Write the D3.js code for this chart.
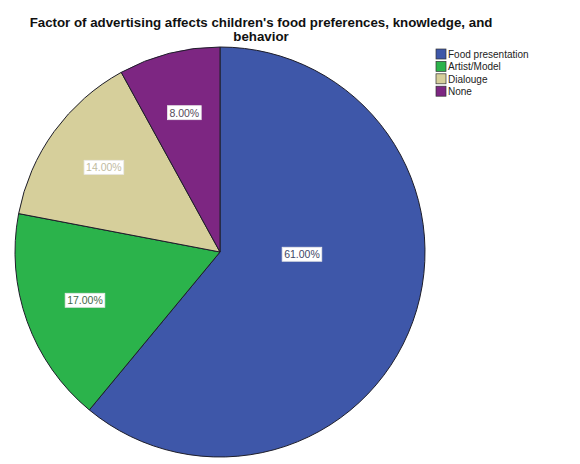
<!DOCTYPE html>
<html>
<head>
<meta charset="utf-8">
<script src="https://cdn.jsdelivr.net/npm/d3@7"></script>
<style>
  body { margin: 0; background: #fff; }
  text { font-family: "Liberation Sans", Arial, sans-serif; }
</style>
</head>
<body>
<div id="chart"></div>
<script>
// data
var categories = ["Food presentation", "Artist/Model", "Dialouge", "None"];
var percents = [61, 17, 14, 8];
var titleLines = ["Factor of advertising affects children's food preferences, knowledge, and", "behavior"];

var width = 580, height = 464;
var cx = 220, cy = 252, radius = 205;

var color = d3.scaleOrdinal()
  .domain(categories)
  .range(["#3e57a9", "#2bb34b", "#d6cf9b", "#7d2682"]);
var labelColor = d3.scaleOrdinal()
  .domain(categories)
  .range(["#3d4766", "#3f6a48", "#bfbb9f", "#574a5c"]);

var svg = d3.select("#chart").append("svg")
  .attr("width", width)
  .attr("height", height);

svg.append("g")
  .selectAll("text")
  .data(titleLines)
  .enter().append("text")
    .attr("x", 261)
    .attr("y", function(d, i) { return 27 + i * 14; })
    .attr("text-anchor", "middle")
    .style("font-size", "13.3px")
    .style("font-weight", "bold")
    .style("fill", "#111")
    .text(function(d) { return d; });

var rows = categories.map(function(c, i) { return { name: c, value: percents[i] }; });

var pie = d3.pie()
  .sort(null)
  .value(function(d) { return d.value; });

var arc = d3.arc()
  .innerRadius(0)
  .outerRadius(radius);

var g = svg.append("g")
  .attr("transform", "translate(" + cx + "," + cy + ")");

var slices = pie(rows);

g.selectAll("path")
  .data(slices)
  .enter().append("path")
    .attr("d", arc)
    .style("fill", function(d) { return color(d.data.name); })
    .style("stroke", "#1e1e2a")
    .style("stroke-width", 1);

// SPSS puts the big slice's label off to the right, small ones along the middle angle
function labelPos(d) {
  var span = d.endAngle - d.startAngle;
  var a = span > Math.PI ? Math.PI * 0.51 : (d.startAngle + d.endAngle) / 2;
  var r = span > Math.PI ? radius * 0.4 : radius * 0.7;
  return [Math.sin(a) * r, -Math.cos(a) * r];
}

var fmt = d3.format(".2f");

var labels = g.selectAll("g.lbl")
  .data(slices)
  .enter().append("g")
    .attr("class", "lbl")
    .attr("transform", function(d) { return "translate(" + labelPos(d) + ")"; });

labels.append("text")
  .attr("text-anchor", "middle")
  .attr("dy", "0.35em")
  .style("font-size", "10.5px")
  .style("fill", function(d) { return labelColor(d.data.name); })
  .text(function(d) { return fmt(d.data.value) + "%"; });

labels.each(function() {
  var t = d3.select(this).select("text");
  var b = t.node().getBBox();
  d3.select(this).insert("rect", "text")
    .attr("x", b.x - 2)
    .attr("y", b.y - 1)
    .attr("width", b.width + 4)
    .attr("height", b.height + 2)
    .style("fill", "#fff")
    .style("stroke", "#e8e8e8")
    .style("stroke-width", 0.8);
});

var legend = svg.append("g")
  .attr("transform", "translate(436,49)");

var item = legend.selectAll("g")
  .data(categories)
  .enter().append("g")
    .attr("transform", function(d, i) { return "translate(0," + (i * 12.4) + ")"; });

item.append("rect")
  .attr("width", 10)
  .attr("height", 10)
  .style("fill", function(d) { return color(d); })
  .style("stroke", "#333")
  .style("stroke-width", 0.7);

item.append("text")
  .attr("x", 12)
  .attr("y", 5.5)
  .attr("dy", "0.35em")
  .style("font-size", "10px")
  .style("fill", "#222")
  .text(function(d) { return d; });
</script>
</body>
</html>
